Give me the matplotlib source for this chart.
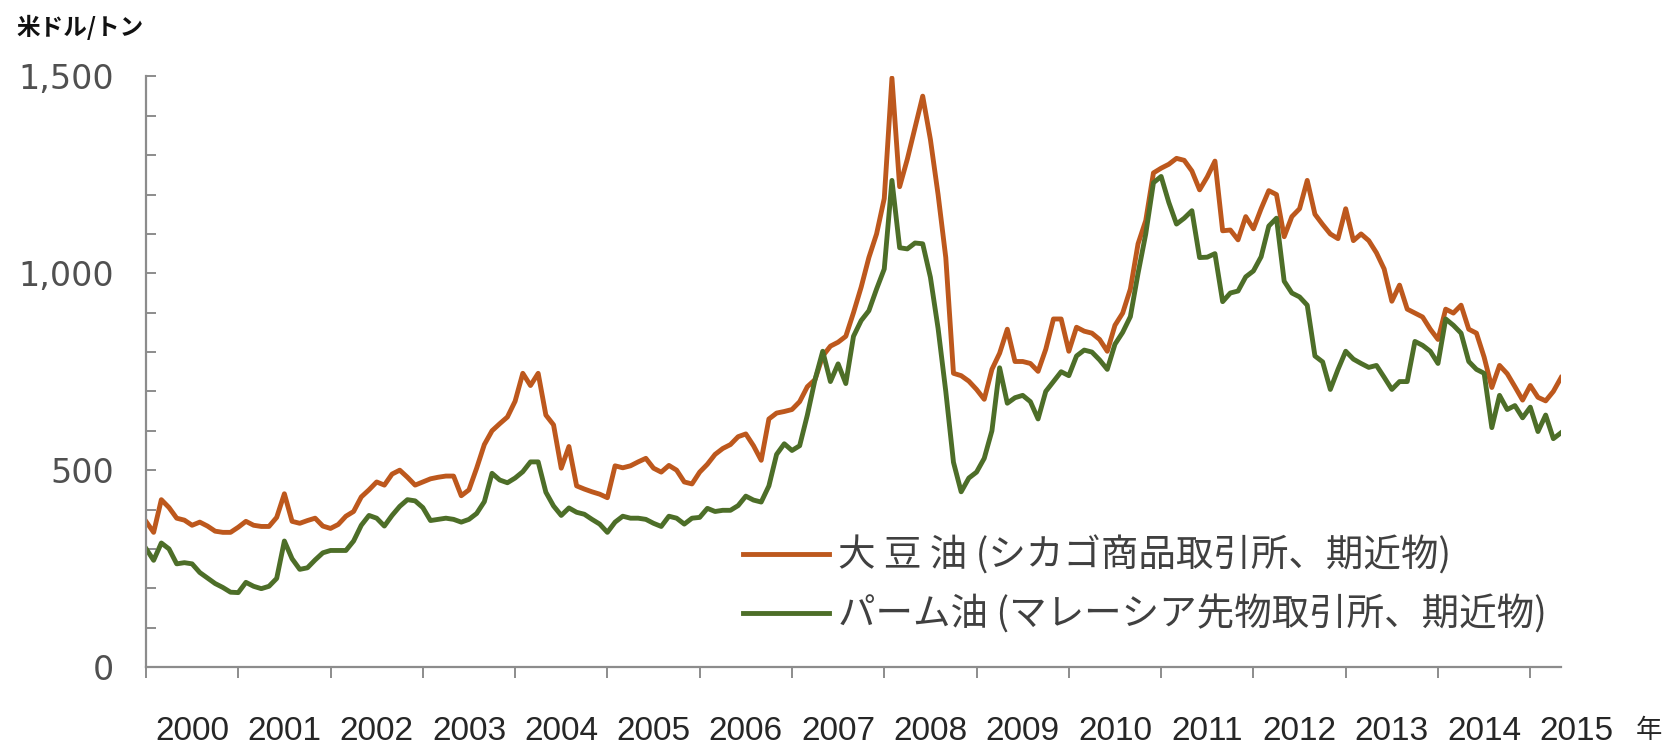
import matplotlib
matplotlib.use('Agg')
import matplotlib.pyplot as plt
import matplotlib.transforms as mtransforms
from matplotlib.ticker import MultipleLocator, FixedLocator, FuncFormatter

# ---- data (monthly, Jan 2000 - May 2015), USD / ton ----
year_labels = [str(y) for y in range(2000, 2016)]

soy_oil = [
    370, 342, 425, 405, 378, 373, 360, 368, 358, 345, 342, 342,
    355, 370, 360, 357, 357, 380, 440, 370, 365, 372, 378, 358,
    352, 362, 383, 395, 432, 450, 470, 462, 490, 500, 482, 462,
    470, 478, 482, 485, 485, 435, 450, 505, 565, 600, 618, 635,
    675, 746, 715, 746, 640, 615, 505, 560, 460, 452, 445, 439,
    430, 511, 506, 511, 521, 530, 505, 495, 512, 500, 470, 465,
    495, 515, 540, 555, 565, 585, 592, 562, 525, 630, 645, 649,
    654, 674, 712, 730, 790, 815, 825, 840, 900, 965, 1040, 1100,
    1190, 1496, 1220, 1290, 1370, 1450, 1340, 1200, 1040, 746, 740, 726,
    705, 680, 756, 797, 858, 776, 776, 771, 751, 807, 884, 884,
    802, 863, 853, 848, 832, 802, 868, 899, 960, 1075, 1134, 1255,
    1267, 1277, 1292, 1287, 1260, 1212, 1245, 1285, 1108, 1110, 1085, 1144,
    1113, 1164, 1210, 1200, 1093, 1144, 1164, 1236, 1150, 1124, 1100, 1088,
    1164, 1083, 1100, 1083, 1052, 1011, 929, 970, 909, 899, 889, 858,
    832, 909, 899, 919, 858, 848, 787, 710, 766, 745, 712, 678,
    715, 685, 676, 700, 735,
]

palm_oil = [
    301, 271, 315, 300, 262, 265, 262, 240, 226, 212, 202, 190,
    189, 215, 205, 199, 205, 225, 320, 275, 248, 252, 272, 290,
    296, 296, 296, 320, 360, 385, 378, 358, 385, 408, 425, 422,
    405, 372, 375, 378, 375, 368, 375, 390, 420, 492, 475, 468,
    480, 496, 521, 521, 444, 409, 385, 404, 393, 388, 375, 363,
    342, 368, 383, 378, 378, 375, 365, 357, 383, 378, 363, 378,
    380, 403, 395, 398, 398, 410, 434, 424, 419, 460, 540, 567,
    550, 562, 640, 730, 802, 725, 770, 720, 840, 880, 905, 960,
    1011, 1236, 1065, 1062, 1077, 1075, 990, 860, 700, 520, 445, 480,
    495, 530, 600, 760, 670, 684, 690, 674, 630, 700, 725, 750,
    740, 790, 805, 800, 780, 756, 820, 850, 890, 1000, 1100, 1230,
    1246, 1180, 1125, 1140, 1159, 1040, 1041, 1050, 928, 950, 955, 991,
    1006, 1042, 1120, 1140, 980, 950, 940, 919, 790, 775, 705, 756,
    802, 782, 771, 761, 766, 736, 705, 725, 725, 827, 817, 802,
    771, 884, 868, 848, 776, 756, 746, 608, 690, 654, 664, 633,
    660, 598, 640, 580, 595,
]

soy_label = '大 豆 油 (シカゴ商品取引所、期近物)'
palm_label = 'パーム油 (マレーシア先物取引所、期近物)'

months = list(range(len(soy_oil)))

SOY_COLOR = '#BD581D'
PALM_COLOR = '#4D6E28'
AXIS_COLOR = '#8C8C8C'
CJK = ['Noto Sans CJK JP', 'DejaVu Sans']

fig = plt.figure(figsize=(16.66, 7.46), dpi=100)
ax = fig.add_axes([0.0876, 0.1059, 0.8494, 0.7916])

ax.plot(months, soy_oil, color=SOY_COLOR, lw=3.5, solid_joinstyle='round',
        label=soy_label)
ax.plot(months, palm_oil, color=PALM_COLOR, lw=3.5, solid_joinstyle='round',
        label=palm_label)

ax.set_xlim(0, len(soy_oil) - 1)
ax.set_ylim(0, 1500)

for s in ['top', 'right']:
    ax.spines[s].set_visible(False)
for s in ['left', 'bottom']:
    ax.spines[s].set_color(AXIS_COLOR)
    ax.spines[s].set_linewidth(1.6)

# y axis
ax.yaxis.set_major_locator(MultipleLocator(500))
ax.yaxis.set_minor_locator(MultipleLocator(100))
ax.yaxis.set_major_formatter(FuncFormatter(lambda v, p: f'{v:,.0f}'))
ax.tick_params(axis='y', which='both', direction='in', length=7, width=1.4,
               color=AXIS_COLOR)
ax.tick_params(axis='y', which='major', pad=23, labelsize=24,
               labelcolor='#505050')

# x axis: ticks at year boundaries, labels centred within each year
ax.xaxis.set_major_locator(FixedLocator([12 * i for i in range(len(year_labels))]))
ax.tick_params(axis='x', which='major', direction='out', length=8, width=1.4,
               color=AXIS_COLOR, labelbottom=False)
trans = mtransforms.blended_transform_factory(ax.transData, ax.transAxes)
for i, lab in enumerate(year_labels):
    ax.text(12 * i + 6, -0.110, lab, transform=trans, ha='center', va='center',
            fontsize=24, family=['Liberation Sans', 'DejaVu Sans'],
            color='#262626', clip_on=False)

fig.text(1649 / 1666, 1 - 731 / 746, '年', ha='center', va='center',
         fontsize=19, family=CJK, color='#262626')
fig.text(16 / 1666, 1 - 27 / 746, '米ドル/トン', ha='left', va='center',
         fontsize=17, family=CJK, weight='bold', color='#111111')

leg = ax.legend(loc='center left', bbox_to_anchor=(743 / 1666, 1 - 586 / 746),
                bbox_transform=fig.transFigure, frameon=False,
                prop={'family': CJK, 'size': 27}, labelcolor='#404040',
                handlelength=2.3, handletextpad=0.22, borderpad=0,
                borderaxespad=0, labelspacing=0.53)

fig.savefig('out.png', dpi=100)
